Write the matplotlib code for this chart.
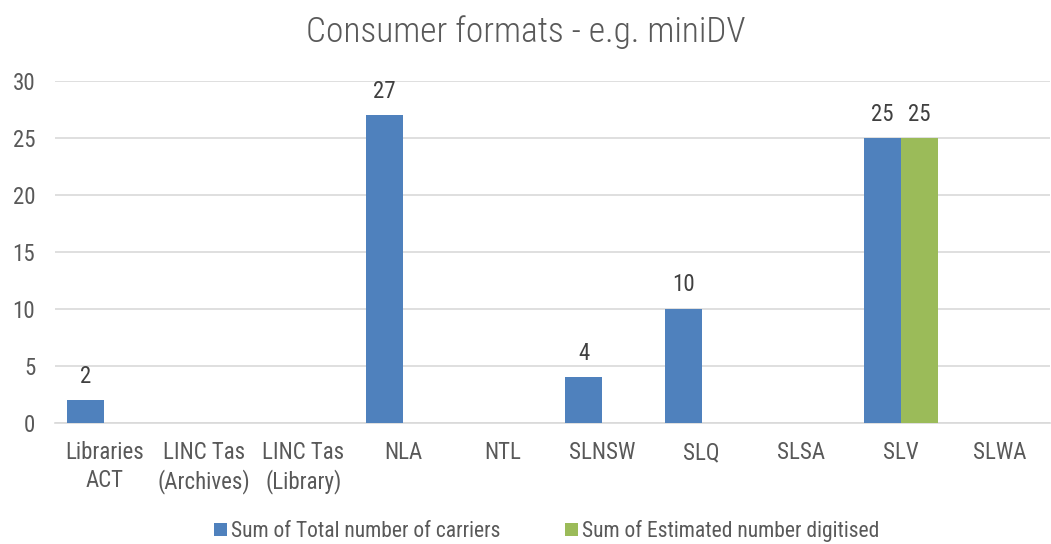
import matplotlib
matplotlib.use("Agg")
import matplotlib.pyplot as plt
import numpy as np

categories = ["Libraries\nACT", "LINC Tas\n(Archives)", "LINC Tas\n(Library)", "NLA", "NTL",
              "SLNSW", "SLQ", "SLSA", "SLV", "SLWA"]
total_carriers = [2, None, None, 27, None, 4, 10, None, 25, None]
est_digitised = [None, None, None, None, None, None, None, None, 25, None]
series_names = ["Sum of Total number of carriers", "Sum of Estimated number digitised"]
colors = ["#4f81bd", "#9bbb59"]

plt.rcParams['font.family'] = ['Roboto Condensed', 'DejaVu Sans']
text_color = "#595959"

fig = plt.figure(figsize=(10.51, 5.44), dpi=100)
ax = fig.add_axes([0.052, 0.2224, 0.947, 0.6286])

x = np.arange(len(categories))
w = 0.372
for i, (vals, name, c) in enumerate(zip([total_carriers, est_digitised], series_names, colors)):
    xs = [xi + (i - 0.5) * w for xi, v in zip(x, vals) if v is not None]
    vs = [v for v in vals if v is not None]
    ax.bar(xs, vs, width=w, color=c, label=name, zorder=3)
    for xx, v in zip(xs, vs):
        ax.text(xx, v + 1.1, f"{v}", ha="center", va="bottom", fontsize=16.5, color="#404040")

ax.set_xlim(-0.5, len(categories) - 0.5)
ax.set_ylim(0, 30)
ax.set_yticks(range(0, 31, 5))
ax.grid(axis="y", color="#d9d9d9", linewidth=1.2, zorder=0)
for s in ["top", "right", "left"]:
    ax.spines[s].set_visible(False)
ax.spines["bottom"].set_color("#d9d9d9")
ax.spines["bottom"].set_linewidth(1.2)
ax.set_xticks(x)
ax.set_xticklabels(categories, linespacing=1.25)
ax.tick_params(axis="both", length=0, labelsize=16.5, colors=text_color)
ax.tick_params(axis="x", pad=13)
ax.tick_params(axis="y", pad=14)

fig.suptitle("Consumer formats - e.g. miniDV", fontsize=25.5, color=text_color, y=0.972,
             fontweight=300)
fig.legend(loc="lower center", ncol=2, frameon=False, fontsize=15.5, bbox_to_anchor=(0.52, -0.032),
           handlelength=0.6, handleheight=0.6, handletextpad=0.2, columnspacing=3.0,
           labelcolor=text_color)
fig.savefig("out.png", dpi=100)
